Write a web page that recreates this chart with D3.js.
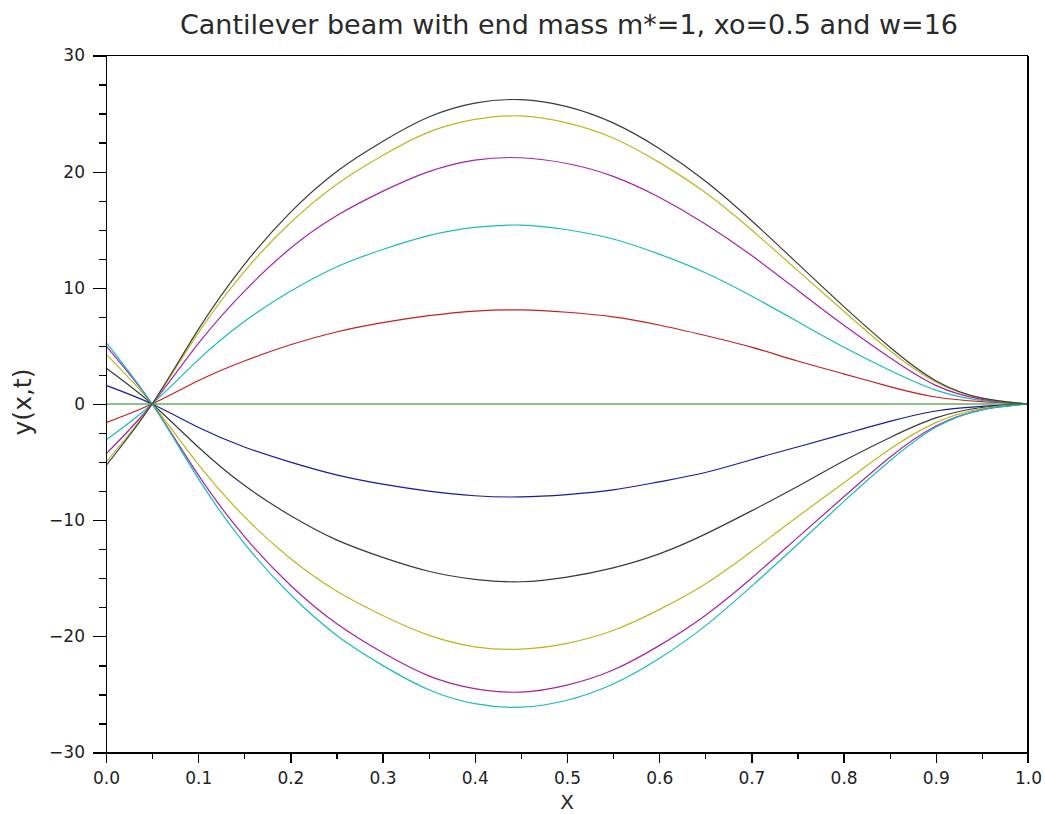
<!DOCTYPE html>
<meta charset="utf-8">
<style>
body, html { margin: 0; background: #fff; }
text { font-family: "DejaVu Sans", sans-serif; fill: #2a2a2a; }
.axis path, .axis line { stroke: #000; stroke-width: 1.3px; shape-rendering: crispEdges; }
.axis text { font-size: 17px; fill: #222; font-family: "DejaVu Sans", sans-serif; }
.curves path { fill: none; stroke-width: 1.2px; }
</style>
<svg width="1045" height="814"></svg>
<script src="https://d3js.org/d3.v7.min.js"></script>
<script>

// x positions along the beam
var xs = [0, 0.05, 0.1, 0.15, 0.2, 0.25, 0.3, 0.35, 0.4, 0.45, 0.5,
          0.55, 0.6, 0.65, 0.7, 0.75, 0.8, 0.85, 0.9, 0.95, 1.0];

// deflection y(x,t) at successive instants
var upBlack   = [-5.3, 0, 6.4, 12.0, 16.5, 20.0, 22.6, 24.7, 25.9, 26.2, 25.6, 24.2, 22.0, 19.2, 15.8, 12.1, 8.4, 4.9, 2.0, 0.5, 0];
var upYellow  = [-5.0, 0, 6.1, 11.4, 15.6, 18.9, 21.4, 23.4, 24.5, 24.8, 24.2, 22.9, 20.8, 18.2, 15.0, 11.5, 8.0, 4.6, 1.9, 0.5, 0];
var upMagenta = [-4.3, 0, 5.2, 9.7, 13.4, 16.2, 18.3, 20.0, 21.0, 21.2, 20.7, 19.6, 17.8, 15.5, 12.8, 9.8, 6.8, 4.0, 1.6, 0.4, 0];
var upCyan    = [-3.1, 0, 3.8, 7.1, 9.7, 11.8, 13.3, 14.5, 15.2, 15.4, 15.0, 14.2, 12.9, 11.3, 9.3, 7.1, 4.9, 2.9, 1.2, 0.3, 0];
var upRed     = [-1.6, 0, 2.0, 3.7, 5.1, 6.2, 7.0, 7.6, 8.0, 8.1, 7.9, 7.5, 6.8, 5.9, 4.9, 3.7, 2.6, 1.5, 0.6, 0.2, 0];
var flatGreen = [0, 0, 0, 0, 0, 0, 0, 0, 0, 0, 0, 0, 0, 0, 0, 0, 0, 0, 0, 0, 0];
var dnBlue    = [1.6, 0, -2.0, -3.7, -5.0, -6.1, -6.9, -7.5, -7.9, -8.0, -7.8, -7.4, -6.7, -5.9, -4.8, -3.7, -2.6, -1.5, -0.6, -0.2, 0];
var dnBlack   = [3.1, 0, -3.7, -7.0, -9.6, -11.7, -13.2, -14.4, -15.1, -15.3, -14.9, -14.1, -12.9, -11.2, -9.2, -7.1, -4.9, -2.9, -1.2, -0.3, 0];
var dnYellow  = [4.3, 0, -5.2, -9.7, -13.3, -16.1, -18.2, -19.9, -20.9, -21.1, -20.6, -19.5, -17.7, -15.5, -12.7, -9.7, -6.8, -3.9, -1.6, -0.4, 0];
var dnMagenta = [5.0, 0, -6.1, -11.4, -15.6, -18.9, -21.4, -23.4, -24.5, -24.8, -24.2, -22.9, -20.8, -18.2, -15.0, -11.5, -8.0, -4.6, -1.9, -0.5, 0];
var dnCyan    = [5.3, 0, -6.4, -12.0, -16.4, -19.9, -22.5, -24.6, -25.8, -26.1, -25.5, -24.1, -21.9, -19.1, -15.7, -12.1, -8.4, -4.9, -2.0, -0.5, 0];

var series = [upRed, upCyan, upMagenta, upYellow, upBlack, dnBlue, dnBlack, dnYellow, dnMagenta, dnCyan, flatGreen];
var colors = ['#c42020', '#18bcbc', '#a524a5', '#bcb820', '#3a3a3a', '#1a1a9a', '#3a3a3a', '#bcb820', '#a524a5', '#18bcbc', '#168a16'];

var xMajor = [0, 0.1, 0.2, 0.3, 0.4, 0.5, 0.6, 0.7, 0.8, 0.9, 1.0];
var xMinor = [0.05, 0.15, 0.25, 0.35, 0.45, 0.55, 0.65, 0.75, 0.85, 0.95];
var yMajor = [-30, -20, -10, 0, 10, 20, 30];
var yMinor = [-27.5, -25, -22.5, -17.5, -15, -12.5, -7.5, -5, -2.5,
              2.5, 5, 7.5, 12.5, 15, 17.5, 22.5, 25, 27.5];

var titleText = 'Cantilever beam with end mass m*=1, xo=0.5 and w=16';

var plotLeft = 106, plotRight = 1028, plotTop = 55.5, plotBottom = 752.5;

var x = d3.scaleLinear().domain([0, 1]).range([plotLeft, plotRight]);
var y = d3.scaleLinear().domain([-30, 30]).range([plotBottom, plotTop]);

var svg = d3.select('svg');

// curves
var line = d3.line()
  .x(function (d, i) { return x(xs[i]); })
  .y(function (d) { return y(d); })
  .curve(d3.curveNatural);

svg.append('g')
  .attr('class', 'curves')
  .selectAll('path')
  .data(series)
  .enter().append('path')
  .attr('d', line)
  .attr('stroke', function (d, i) { return colors[i]; });

// frame (top and right)
svg.append('line').attr('class', 'frame')
  .attr('x1', plotLeft - 13).attr('x2', plotRight).attr('y1', plotTop).attr('y2', plotTop);
svg.append('line').attr('class', 'frame')
  .attr('x1', plotRight).attr('x2', plotRight).attr('y1', plotTop).attr('y2', plotBottom + 10);
svg.selectAll('.frame').attr('stroke', '#000').attr('stroke-width', 1.3).style('shape-rendering', 'crispEdges');

// axes
svg.append('g').attr('class', 'axis')
  .attr('transform', 'translate(0,' + plotBottom + ')')
  .call(d3.axisBottom(x).tickValues(xMajor).tickFormat(d3.format('.1f')).tickSize(10).tickSizeOuter(0).tickPadding(9));
svg.append('g').attr('class', 'axis')
  .attr('transform', 'translate(0,' + plotBottom + ')')
  .call(d3.axisBottom(x).tickValues(xMinor).tickFormat('').tickSize(6).tickSizeOuter(0));

svg.append('g').attr('class', 'axis')
  .attr('transform', 'translate(' + plotLeft + ',0)')
  .call(d3.axisLeft(y).tickValues(yMajor).tickSize(13).tickSizeOuter(0).tickPadding(8));
svg.append('g').attr('class', 'axis')
  .attr('transform', 'translate(' + plotLeft + ',0)')
  .call(d3.axisLeft(y).tickValues(yMinor).tickFormat('').tickSize(7).tickSizeOuter(0));

// labels
svg.append('text')
  .attr('x', (plotLeft + plotRight) / 2 + 2).attr('y', 34)
  .attr('text-anchor', 'middle')
  .style('font-size', '27px')
  .text(titleText);

svg.append('text')
  .attr('x', (plotLeft + plotRight) / 2).attr('y', 809)
  .attr('text-anchor', 'middle')
  .style('font-size', '20px')
  .text('X');

svg.append('text')
  .attr('transform', 'translate(31,' + (y(0) - 2) + ') rotate(-90)')
  .attr('text-anchor', 'middle')
  .style('font-size', '25px')
  .text('y(x,t)');

</script>
